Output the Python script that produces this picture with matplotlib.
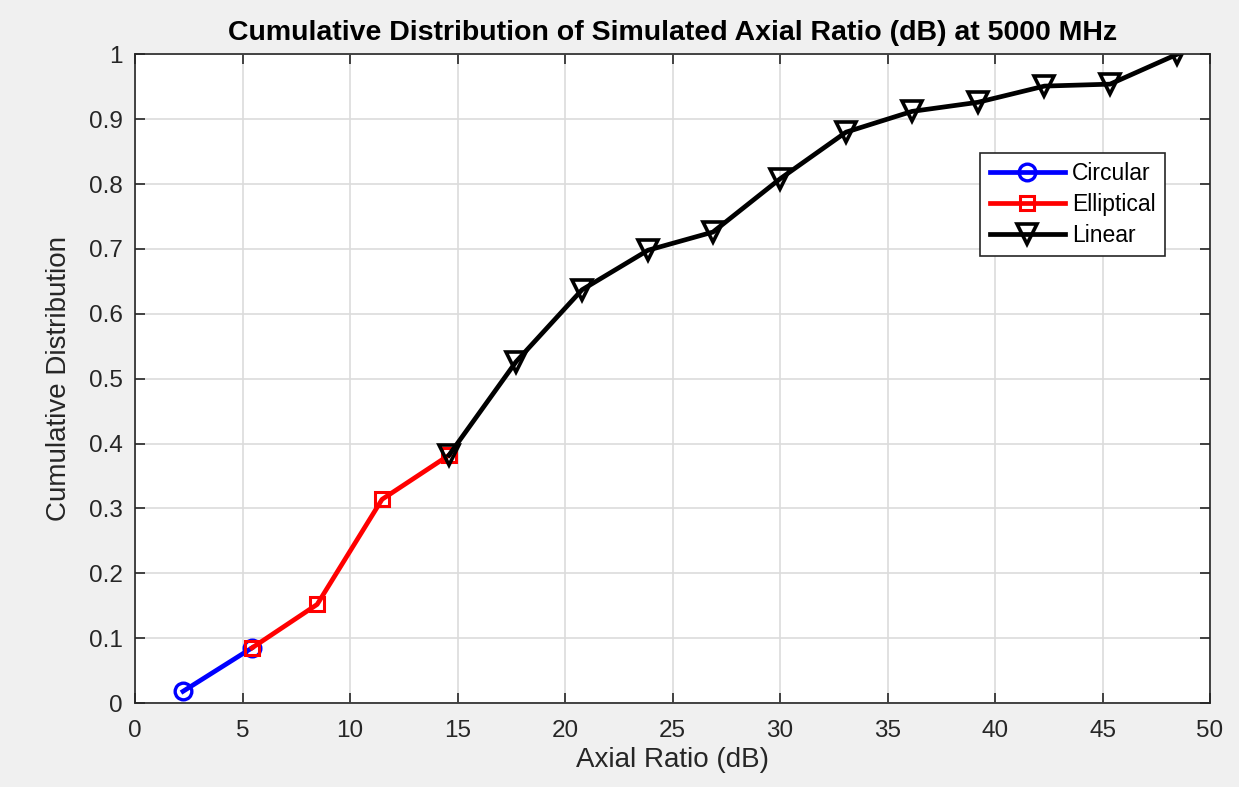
import numpy as np
import matplotlib.pyplot as plt

# Axial ratio (dB) and cumulative distribution per polarisation class
circ_x = [2.23, 5.44]
circ_y = [0.018, 0.085]
ell_x = [5.44, 8.47, 11.49, 14.6]
ell_y = [0.085, 0.152, 0.314, 0.382]
lin_x = [14.6, 17.72, 20.79, 23.86, 26.88, 30.0, 33.07, 36.14, 39.2, 42.3, 45.35, 48.47]
lin_y = [0.382, 0.526, 0.637, 0.698, 0.726, 0.808, 0.88, 0.912, 0.926, 0.951, 0.954, 1.0]

plt.rcParams['font.family'] = ['Liberation Sans', 'DejaVu Sans']

fig = plt.figure(figsize=(12.39, 7.87), dpi=100, facecolor='#f0f0f0')
ax = fig.add_axes([0.109, 0.1067, 0.8676, 0.8243])

ax.plot(circ_x, circ_y, color='blue', lw=3.4, marker='o', ms=12, mfc='none', mew=2.4, label='Circular')
ax.plot(ell_x, ell_y, color='red', lw=3.4, marker='s', ms=10, mfc='none', mew=2.2, label='Elliptical')
ax.plot(lin_x, lin_y, color='black', lw=3.4, marker='v', ms=15, mfc='none', mew=2.6, label='Linear')

ax.set_xlim(0, 50)
ax.set_ylim(0, 1)
ax.set_xticks(np.arange(0, 51, 5))
ax.set_yticks(np.arange(0, 1.01, 0.1))
ax.set_yticklabels(['0', '0.1', '0.2', '0.3', '0.4', '0.5', '0.6', '0.7', '0.8', '0.9', '1'])
ax.grid(True, color='#dcdcdc', lw=1.2)
ax.set_axisbelow(True)
ax.tick_params(direction='in', top=True, right=True, labelsize=17.5, colors='#262626', length=7, width=1.2)
ax.tick_params(axis='x', pad=12)
ax.tick_params(axis='y', pad=9)
for s in ax.spines.values():
    s.set_color('#262626')
    s.set_linewidth(1.2)

ax.set_xlabel('Axial Ratio (dB)', fontsize=20, color='#262626', labelpad=4)
ax.set_ylabel('Cumulative Distribution', fontsize=20, color='#262626', labelpad=12)
ax.set_title('Cumulative Distribution of Simulated Axial Ratio (dB) at 5000 MHz',
             fontsize=20.5, fontweight='bold', pad=10)

leg = ax.legend(loc='upper right', bbox_to_anchor=(0.958, 0.848), fontsize=16.5,
                fancybox=False, framealpha=1, edgecolor='#262626',
                handlelength=3.3, borderpad=0.4, labelspacing=0.35, handletextpad=0.3,
                borderaxespad=0)
leg.get_frame().set_linewidth(1.2)

fig.savefig('out.png', dpi=100, facecolor=fig.get_facecolor())
